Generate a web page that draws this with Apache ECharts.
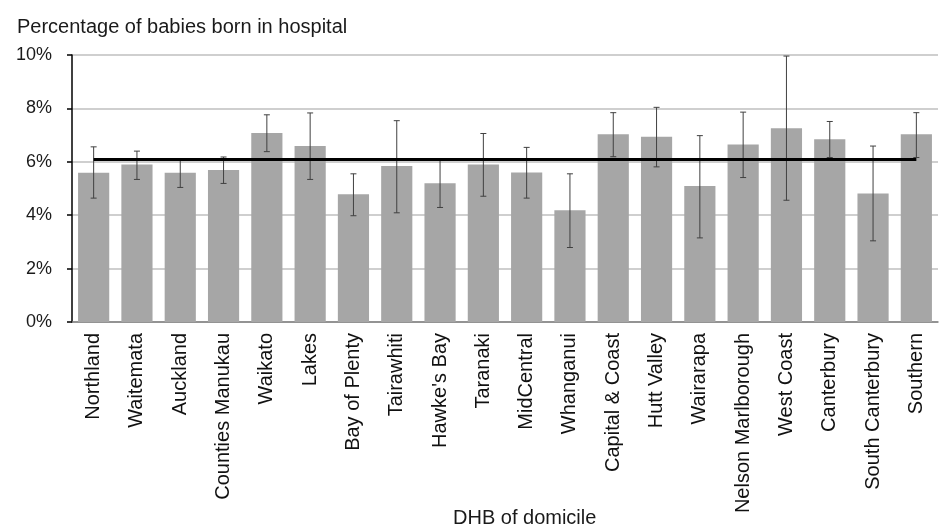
<!DOCTYPE html>
<html>
<head>
<meta charset="utf-8">
<script src="https://cdn.jsdelivr.net/npm/echarts@6/dist/echarts.min.js"></script>
<style>html,body{margin:0;padding:0;background:#fff}#c{width:941px;height:526px}</style>
</head>
<body>
<div id="c"></div>
<script>
const categories = ["Northland","Waitemata","Auckland","Counties Manukau","Waikato","Lakes","Bay of Plenty","Tairawhiti","Hawke's Bay","Taranaki","MidCentral","Whanganui","Capital & Coast","Hutt Valley","Wairarapa","Nelson Marlborough","West Coast","Canterbury","South Canterbury","Southern"];
const values = [5.59,5.90,5.59,5.69,7.08,6.59,4.78,5.84,5.20,5.90,5.60,4.19,7.03,6.94,5.09,6.65,7.26,6.84,4.81,7.03];
const lower  = [4.64,5.34,5.04,5.19,6.38,5.34,3.98,4.09,4.29,4.71,4.64,2.79,6.19,5.81,3.15,5.41,4.56,6.16,3.04,6.16];
const upper  = [6.56,6.40,6.06,6.18,7.76,7.83,5.55,7.54,6.06,7.06,6.54,5.55,7.84,8.04,6.98,7.86,9.96,7.51,6.59,7.84];
const nzAverage = 6.11;
const yTicks = [0,2,4,6,8,10];

const chart = echarts.init(document.getElementById('c'));
const font = 'Liberation Sans, Arial, sans-serif';
chart.setOption({
  animation: false,
  textStyle: {fontFamily: font},
  title: {text: 'Percentage of babies born in hospital', left: 12, top: 12,
    textStyle: {fontSize: 20, fontWeight: 'normal', color: '#1a1a1a', fontFamily: font}},
  graphic: [{type: 'text', left: 453, top: 508,
    style: {text: 'DHB of domicile', fontSize: 20, fill: '#1a1a1a', fontFamily: font}}],
  grid: {left: 72, right: 3, top: 55, bottom: 204},
  xAxis: {type: 'category', data: categories,
    axisLine: {lineStyle: {color: '#808080', width: 1.5}},
    axisTick: {show: false},
    axisLabel: {rotate: 90, fontSize: 20, color: '#111', margin: 11, interval: 0, fontFamily: font}},
  yAxis: {type: 'value', min: yTicks[0], max: yTicks[yTicks.length-1], interval: 2,
    axisLine: {show: true, lineStyle: {color: '#000', width: 1.5}},
    axisTick: {show: true, length: 5, lineStyle: {color: '#000', width: 1.5}},
    splitLine: {lineStyle: {color: '#bfbfbf', width: 1.5}},
    axisLabel: {formatter: '{value}%', fontSize: 18, color: '#1a1a1a', margin: 20, fontFamily: font}},
  series: [
    {type: 'bar', data: values, barCategoryGap: '28%',
      itemStyle: {color: '#a6a6a6'}, z: 2,
      markLine: {silent: true, symbol: 'none', label: {show: false},
        lineStyle: {color: '#000', width: 3, type: 'solid'},
        data: [[{coord: [categories[0], nzAverage]}, {coord: [categories[categories.length-1], nzAverage]}]]}},
    {type: 'custom', z: 3,
      data: categories.map((c, i) => [i, lower[i], upper[i]]),
      renderItem: function (params, api) {
        const i = api.value(0);
        const lo = api.coord([i, api.value(1)]);
        const hi = api.coord([i, api.value(2)]);
        const w = 3;
        const st = {stroke: '#404040', lineWidth: 1};
        return {type: 'group', children: [
          {type: 'line', shape: {x1: lo[0], y1: lo[1], x2: hi[0], y2: hi[1]}, style: st},
          {type: 'line', shape: {x1: lo[0]-w, y1: lo[1], x2: lo[0]+w, y2: lo[1]}, style: st},
          {type: 'line', shape: {x1: hi[0]-w, y1: hi[1], x2: hi[0]+w, y2: hi[1]}, style: st}
        ]};
      }}
  ]
});
</script>
</body>
</html>
